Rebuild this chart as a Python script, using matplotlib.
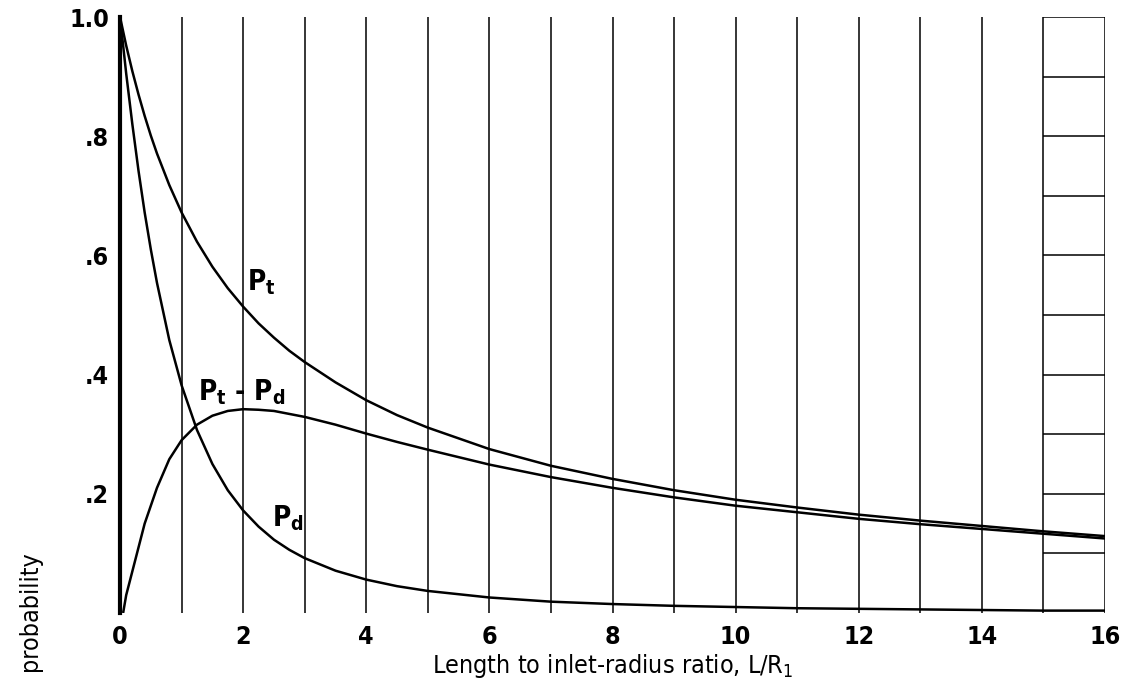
import numpy as np
import matplotlib
matplotlib.use("Agg")
import matplotlib.pyplot as plt
from matplotlib import font_manager

# narrow sans face: prefer a condensed cut when one is installed
names = {f.name for f in font_manager.fontManager.ttflist}
FACE = "Liberation Sans Narrow" if "Liberation Sans Narrow" in names else "DejaVu Sans"
plt.rcParams["font.family"] = [FACE, "DejaVu Sans"]
plt.rcParams["font.stretch"] = "condensed"
plt.rcParams["mathtext.fontset"] = "custom"
plt.rcParams["mathtext.rm"] = FACE + ":stretch=condensed"
plt.rcParams["mathtext.it"] = FACE + ":stretch=condensed"
plt.rcParams["mathtext.bf"] = FACE + ":stretch=condensed:bold"
plt.rcParams["mathtext.default"] = "rm"

# Length-to-radius ratio L/R1
ratio = [0.0, 0.1, 0.2, 0.3, 0.4, 0.5, 0.6, 0.8, 1.0, 1.25, 1.5, 1.75, 2.0,
         2.25, 2.5, 2.75, 3.0, 3.5, 4.0, 4.5, 5.0, 6.0, 7.0, 8.0, 9.0, 10.0,
         11.0, 12.0, 13.0, 14.0, 15.0, 16.0]
# total transmission probability
p_total = [1.0, 0.952, 0.909, 0.870, 0.834, 0.801, 0.771, 0.718, 0.672, 0.623,
           0.581, 0.545, 0.514, 0.486, 0.462, 0.440, 0.421, 0.387, 0.357,
           0.332, 0.311, 0.275, 0.247, 0.225, 0.206, 0.190, 0.177, 0.165,
           0.155, 0.146, 0.137, 0.129]
# direct (unscattered) transmission probability
p_direct = [1.0, 0.905, 0.820, 0.742, 0.672, 0.610, 0.554, 0.458, 0.382, 0.307,
            0.250, 0.206, 0.172, 0.145, 0.123, 0.106, 0.092, 0.071, 0.056,
            0.045, 0.037, 0.026, 0.019, 0.015, 0.012, 0.010, 0.008, 0.007,
            0.006, 0.005, 0.004, 0.004]
# scattered contribution Pt - Pd
diff_ratio = [0.05, 0.1, 0.2, 0.3, 0.4, 0.5, 0.6, 0.8, 1.0, 1.25, 1.5, 1.75,
              2.0, 2.25, 2.5, 2.75, 3.0, 3.5, 4.0, 4.5, 5.0, 6.0, 7.0, 8.0,
              9.0, 10.0, 11.0, 12.0, 13.0, 14.0, 15.0, 16.0]
p_diff = [0.0, 0.030, 0.070, 0.110, 0.150, 0.180, 0.210, 0.258, 0.290, 0.316,
          0.331, 0.339, 0.342, 0.341, 0.339, 0.334, 0.329, 0.316, 0.301,
          0.287, 0.274, 0.249, 0.228, 0.210, 0.194, 0.180, 0.169, 0.158,
          0.149, 0.141, 0.133, 0.125]

x_ticks = [0, 2, 4, 6, 8, 10, 12, 14, 16]
y_ticks = [0.2, 0.4, 0.6, 0.8, 1.0]
y_tick_labels = [".2", ".4", ".6", ".8", "1.0"]
scale_marks = [0.1, 0.2, 0.3, 0.4, 0.5, 0.6, 0.7, 0.8, 0.9, 1.0]

fig = plt.figure(figsize=(11.24, 6.83), dpi=100)
ax = fig.add_axes([0.1068, 0.1025, 0.8763, 0.8726])
ax.set_xlim(0, 16)
ax.set_ylim(0, 1.0)

# vertical rulings at every unit of L/R1
ax.set_xticks(x_ticks)
ax.set_xticks(range(1, 16, 2), minor=True)
ax.grid(True, axis="x", which="both", color="black", linewidth=1.1)
ax.set_axisbelow(True)

# short horizontal scale in the last column
ax.hlines(scale_marks, 15, 16, color="black", linewidth=1.1)

for s in ("top", "bottom", "right"):
    ax.spines[s].set_visible(False)
ax.spines["left"].set_linewidth(3)

for xs, ys in ((ratio, p_total), (ratio, p_direct), (diff_ratio, p_diff)):
    ax.plot(xs, ys, color="black", linewidth=1.8, solid_capstyle="butt",
            solid_joinstyle="round")

ax.set_yticks(y_ticks)
ax.set_yticklabels(y_tick_labels)
ax.tick_params(axis="both", which="both", length=0, labelsize=18)
ax.tick_params(axis="y", pad=8)
ax.tick_params(axis="x", pad=9)
for lab in ax.get_xticklabels() + ax.get_yticklabels():
    lab.set_fontweight("bold")

lab_kw = dict(fontsize=20, ha="center", va="bottom", fontweight="bold")
ax.text(2.3, 0.53, r"P$_{\mathbf{t}}$", **lab_kw)
ax.text(1.98, 0.345, r"P$_{\mathbf{t}}$ - P$_{\mathbf{d}}$", **lab_kw)
ax.text(2.73, 0.135, r"P$_{\mathbf{d}}$", **lab_kw)

ax.set_xlabel(r"Length to inlet-radius ratio, L/R$_{1}$", fontsize=18,
              labelpad=2)
fig.text(0.027, 0.105, "probability", rotation=90, fontsize=18,
         ha="center", va="center")

fig.savefig("out.png", dpi=100)
